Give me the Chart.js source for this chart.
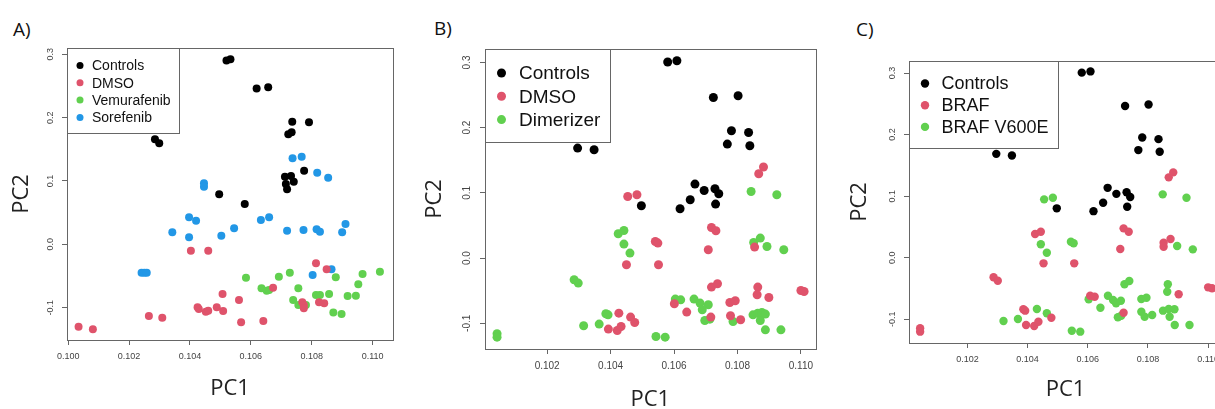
<!DOCTYPE html>
<html>
<head>
<meta charset="utf-8">
<script src="https://cdn.jsdelivr.net/npm/chart.js@4/dist/chart.umd.min.js"></script>
<style>
  html, body { margin: 0; padding: 0; background: #fff; width: 1215px; height: 409px; overflow: hidden; }
  .panel { position: absolute; top: 0; }
  .tag { position: absolute; font-family: 'Open Sans', sans-serif; font-size: 19px; line-height: 20px; color: #111; }
</style>
</head>
<body>
<div class="tag" style="left:13px; top:19px">A)</div>
<div class="tag" style="left:434px; top:18px">B)</div>
<div class="tag" style="left:856px; top:19px">C)</div>
<canvas id="chartA" class="panel" width="410" height="430" style="left:0px"></canvas>
<canvas id="chartB" class="panel" width="405" height="430" style="left:415px"></canvas>
<canvas id="chartC" class="panel" width="390" height="430" style="left:840px"></canvas>
<script>
// tick values and labels (same for all three panels)
const xTicks = [0.100, 0.102, 0.104, 0.106, 0.108, 0.110];
const xTickLabels = ['0.100', '0.102', '0.104', '0.106', '0.108', '0.110'];
const yTicks = [-0.1, 0.0, 0.1, 0.2, 0.3];
const yTickLabels = ['-0.1', '0.0', '0.1', '0.2', '0.3'];

// panel A
const aControls = [[0.10520,0.290],[0.10533,0.292],[0.10619,0.246],[0.10657,0.248],[0.10736,0.1935],[0.10791,0.1926],
  [0.10723,0.1736],[0.10734,0.1768],[0.10285,0.1657],[0.10299,0.1594],[0.10775,0.1162],[0.10712,0.1067],[0.10732,0.1078],
  [0.10715,0.0952],[0.10719,0.0868],[0.10741,0.0988],[0.10496,0.0789],[0.10580,0.0636]];
const aDmso = [[0.10403,-0.0101],[0.10460,-0.0101],[0.10814,-0.0300],[0.10849,-0.0395],[0.10673,-0.0685],[0.10507,-0.0785],
  [0.10561,-0.0879],[0.10425,-0.0995],[0.10429,-0.1021],[0.10452,-0.1064],[0.10460,-0.1048],[0.10488,-0.0995],[0.10509,-0.1053],
  [0.10265,-0.1132],[0.10309,-0.1158],[0.10568,-0.1231],[0.10641,-0.1211],[0.10034,-0.1300],[0.10081,-0.1342],[0.10769,-0.0916],
  [0.10774,-0.0958],[0.10774,-0.1010],[0.10824,-0.0916],[0.10841,-0.0931]];
const aVemurafenib = [[0.10584,-0.0527],[0.10635,-0.0695],[0.10652,-0.0732],[0.10660,-0.0721],[0.10692,-0.0511],[0.10728,-0.0448],
  [0.10756,-0.0695],[0.10739,-0.0879],[0.10756,-0.0958],[0.10781,-0.0958],[0.10814,-0.0800],[0.10827,-0.0800],[0.10857,-0.0785],
  [0.10879,-0.0521],[0.10871,-0.1074],[0.10898,-0.1100],[0.10918,-0.0816],[0.10945,-0.0811],[0.10953,-0.0632],[0.10967,-0.0469],
  [0.11024,-0.0432]];
const aSorefenib = [[0.10737,0.1358],[0.10767,0.1383],[0.10818,0.1130],[0.10854,0.1051],[0.10446,0.0963],[0.10446,0.0909],
  [0.10397,0.0426],[0.10420,0.0373],[0.10633,0.0384],[0.10660,0.0426],[0.10342,0.0189],[0.10397,0.0110],[0.10503,0.0136],
  [0.10545,0.0253],[0.10719,0.0215],[0.10773,0.0226],[0.10816,0.0237],[0.10827,0.0199],[0.10900,0.0189],[0.10911,0.0320],
  [0.10241,-0.0448],[0.10250,-0.0448],[0.10258,-0.0448],[0.10803,-0.0485],[0.10865,-0.0395]];

// panels B and C share the control samples
const bcControls = [[0.10580,0.3006],[0.10609,0.3026],[0.10724,0.2463],[0.10802,0.2489],[0.10781,0.1952],[0.10835,0.1926],
  [0.10768,0.1748],[0.10839,0.1722],[0.10296,0.1687],[0.10348,0.1661],[0.10666,0.1135],[0.10695,0.1037],[0.10729,0.1063],
  [0.10741,0.0986],[0.10731,0.0828],[0.10651,0.0894],[0.10497,0.0802],[0.10619,0.0756]];
const bDmso = [[0.10454,0.0945],[0.10483,0.0971],[0.10867,0.1293],[0.10882,0.1396],[0.10718,0.0469],[0.10732,0.0419],
  [0.10541,0.0255],[0.10549,0.0230],[0.10708,0.0127],[0.10854,0.0169],[0.10450,-0.0103],[0.10551,-0.0103],[0.10718,-0.0445],
  [0.10737,-0.0394],[0.10864,-0.0445],[0.10862,-0.0563],[0.10899,-0.0604],[0.11000,-0.0497],[0.11010,-0.0512],[0.10776,-0.0681],
  [0.10793,-0.0655],[0.10601,-0.0701],[0.10640,-0.0828],[0.10716,-0.0905],[0.10778,-0.0885],[0.10810,-0.0946],[0.10426,-0.0844],
  [0.10463,-0.0905],[0.10476,-0.0988],[0.10393,-0.1089],[0.10421,-0.1110],[0.10433,-0.1049]];
const bDimerizer = [[0.10843,0.1021],[0.10924,0.0971],[0.10424,0.0373],[0.10442,0.0423],[0.10442,0.0215],[0.10461,0.0077],
  [0.10851,0.0239],[0.10872,0.0307],[0.10893,0.0178],[0.10946,0.0127],[0.10285,-0.0333],[0.10298,-0.0383],[0.10604,-0.0629],
  [0.10621,-0.0640],[0.10663,-0.0629],[0.10682,-0.0690],[0.10708,-0.0716],[0.10689,-0.0793],[0.10697,-0.0957],[0.10713,-0.0936],
  [0.10786,-0.0972],[0.10849,-0.0870],[0.10864,-0.0844],[0.10877,-0.0834],[0.10888,-0.0859],[0.10872,-0.0957],[0.10888,-0.1100],
  [0.10937,-0.1100],[0.10385,-0.0854],[0.10392,-0.0870],[0.10364,-0.1012],[0.10315,-0.1038],[0.10543,-0.1202],[0.10572,-0.1212],
  [0.10042,-0.1161],[0.10042,-0.1212]];
const cBraf = [[0.10869,0.1305],[0.10884,0.1386],[0.10425,0.0385],[0.10444,0.0422],[0.10719,0.0477],[0.10736,0.0422],
  [0.10708,0.0141],[0.10852,0.0244],[0.10852,0.0179],[0.10875,0.0304],[0.10453,-0.0091],[0.10555,-0.0091],[0.10287,-0.0318],
  [0.10301,-0.0373],[0.10608,-0.0617],[0.10623,-0.0633],[0.10902,-0.0594],[0.11000,-0.0481],[0.11013,-0.0497],[0.10719,-0.0893],
  [0.10386,-0.0838],[0.10392,-0.0860],[0.10479,-0.0974],[0.10395,-0.1093],[0.10422,-0.1109],[0.10436,-0.1039],[0.10043,-0.1146],
  [0.10043,-0.1201]];
const cBrafV600E = [[0.10455,0.0948],[0.10484,0.0974],[0.10849,0.1029],[0.10928,0.0974],[0.10544,0.0260],[0.10553,0.0234],
  [0.10444,0.0218],[0.10464,0.0081],[0.10897,0.0190],[0.10949,0.0136],[0.10722,-0.0432],[0.10738,-0.0378],[0.10866,-0.0432],
  [0.10864,-0.0552],[0.10603,-0.0675],[0.10667,-0.0617],[0.10684,-0.0687],[0.10694,-0.0740],[0.10710,-0.0698],[0.10642,-0.0812],
  [0.10778,-0.0670],[0.10795,-0.0649],[0.10778,-0.0877],[0.10789,-0.0958],[0.10814,-0.0930],[0.10700,-0.0968],[0.10711,-0.0942],
  [0.10850,-0.0860],[0.10869,-0.0833],[0.10888,-0.0838],[0.10872,-0.0958],[0.10889,-0.1093],[0.10938,-0.1093],[0.10431,-0.0833],
  [0.10464,-0.0903],[0.10368,-0.0995],[0.10320,-0.1028],[0.10547,-0.1185],[0.10575,-0.1201]];

const BLACK = '#000000', RED = '#DF536B', GREEN = '#61D04F', BLUE = '#2297E6';
const AXIS_GRAY = '#666';
const SANS = '"Liberation Sans", Arial, sans-serif';

function labelFor(values, labels, v) {
  const i = values.findIndex(t => Math.abs(t - v) < 1e-9);
  return i < 0 ? '' : labels[i];
}

// box round the plot region, like R's box()
const framePlugin = {
  id: 'frame',
  afterDraw(chart) {
    const { ctx, chartArea: a } = chart;
    ctx.save();
    ctx.strokeStyle = AXIS_GRAY;
    ctx.lineWidth = 1;
    ctx.strokeRect(Math.round(a.left) + 0.5, Math.round(a.top) + 0.5,
      Math.round(a.right - a.left), Math.round(a.bottom - a.top));
    ctx.restore();
  }
};

// legend in the top-left corner of the plot region
const boxLegendPlugin = {
  id: 'boxLegend',
  afterDatasetsDraw(chart, args, o) {
    const { ctx, chartArea: a } = chart;
    const left = Math.round(a.left), top = Math.round(a.top);
    ctx.save();
    ctx.fillStyle = '#fff';
    ctx.fillRect(left, top, o.width, o.height);
    ctx.strokeStyle = AXIS_GRAY;
    ctx.lineWidth = 1;
    ctx.strokeRect(left + 0.5, top + 0.5, o.width, o.height);
    ctx.font = o.textSize + 'px ' + SANS;
    ctx.textBaseline = 'middle';
    chart.data.datasets.forEach((ds, i) => {
      const y = top + o.firstRow + i * o.rowGap;
      ctx.fillStyle = ds.backgroundColor;
      ctx.beginPath();
      ctx.arc(left + o.dotX, y, o.dotR, 0, Math.PI * 2);
      ctx.fill();
      ctx.fillStyle = '#111';
      ctx.fillText(ds.label, left + o.textX, y + 1);
    });
    ctx.restore();
  }
};

function makePanel(id, p) {
  new Chart(document.getElementById(id), {
    type: 'scatter',
    data: {
      datasets: p.series.map(s => ({
        label: s.label,
        data: s.points.map(([x, y]) => ({ x, y })),
        backgroundColor: s.color,
        borderWidth: 0,
        pointRadius: p.radius,
        pointHoverRadius: p.radius
      }))
    },
    options: {
      responsive: false,
      animation: false,
      events: [],
      layout: { padding: { top: p.padTop, right: p.padRight, left: 0, bottom: 0 } },
      plugins: {
        legend: { display: false },
        tooltip: { enabled: false },
        boxLegend: p.legend
      },
      scales: {
        x: {
          type: 'linear',
          min: p.xMin,
          max: p.xMax,
          afterBuildTicks: s => {
            s.ticks = xTicks.filter(v => v >= s.min && v <= s.max).map(v => ({ value: v }));
          },
          afterFit: s => { s.height = p.xAxisHeight; },
          grid: { drawOnChartArea: false, drawTicks: true, tickLength: 5, color: AXIS_GRAY },
          border: { display: false },
          ticks: {
            callback: v => labelFor(xTicks, xTickLabels, v),
            autoSkip: false, maxRotation: 0,
            font: { family: SANS, size: p.tickSize }, color: '#444', padding: 6
          },
          title: {
            display: true, text: 'PC1', color: '#222',
            font: { family: '"Open Sans", sans-serif', size: 22 },
            padding: { top: 0, bottom: p.xTitlePad }
          }
        },
        y: {
          type: 'linear',
          min: p.yMin,
          max: p.yMax,
          afterBuildTicks: s => {
            s.ticks = yTicks.filter(v => v >= s.min && v <= s.max).map(v => ({ value: v }));
          },
          afterFit: s => { s.width = p.yAxisWidth; },
          grid: { drawOnChartArea: false, drawTicks: true, tickLength: 5, color: AXIS_GRAY },
          border: { display: false },
          ticks: {
            callback: v => labelFor(yTicks, yTickLabels, v),
            autoSkip: false, minRotation: 90, maxRotation: 90, crossAlign: 'center',
            font: { family: SANS, size: p.tickSize }, color: '#444', padding: 4
          },
          title: {
            display: true, text: 'PC2', color: '#222',
            font: { family: '"Open Sans", sans-serif', size: 22 },
            padding: { top: p.yTitlePad, bottom: 0 }
          }
        }
      }
    },
    plugins: [boxLegendPlugin, framePlugin]
  });
}

makePanel('chartA', {
  series: [
    { label: 'Controls', points: aControls, color: BLACK },
    { label: 'DMSO', points: aDmso, color: RED },
    { label: 'Vemurafenib', points: aVemurafenib, color: GREEN },
    { label: 'Sorefenib', points: aSorefenib, color: BLUE }
  ],
  xMin: 0.09996, xMax: 0.11067, yMin: -0.151, yMax: 0.3099,
  padTop: 48, padRight: 17, yAxisWidth: 67, xAxisHeight: 90,
  xTitlePad: 28, yTitlePad: 9, tickSize: 9, radius: 4,
  legend: { width: 112, height: 85, dotX: 13, textX: 25, firstRow: 17.5, rowGap: 17.3, dotR: 3.5, textSize: 14 }
});

makePanel('chartB', {
  series: [
    { label: 'Controls', points: bcControls, color: BLACK },
    { label: 'DMSO', points: bDmso, color: RED },
    { label: 'Dimerizer', points: bDimerizer, color: GREEN }
  ],
  xMin: 0.10004, xMax: 0.11046, yMin: -0.1394, yMax: 0.3206,
  padTop: 49, padRight: 2, yAxisWidth: 70, xAxisHeight: 81,
  xTitlePad: 17, yTitlePad: 7, tickSize: 10, radius: 4.5,
  legend: { width: 125, height: 93, dotX: 16.5, textX: 34, firstRow: 24, rowGap: 23.3, dotR: 4.5, textSize: 19 }
});

makePanel('chartC', {
  series: [
    { label: 'Controls', points: bcControls, color: BLACK },
    { label: 'BRAF', points: cBraf, color: RED },
    { label: 'BRAF V600E', points: cBrafV600E, color: GREEN }
  ],
  xMin: 0.10006, xMax: 0.11046, yMin: -0.1385, yMax: 0.3195,
  padTop: 61, padRight: 8, yAxisWidth: 69, xAxisHeight: 87,
  xTitlePad: 27, yTitlePad: 7, tickSize: 9, radius: 4.2,
  legend: { width: 149, height: 87, dotX: 16, textX: 32.5, firstRow: 22.5, rowGap: 21.7, dotR: 4.2, textSize: 18 }
});
</script>
</body>
</html>
